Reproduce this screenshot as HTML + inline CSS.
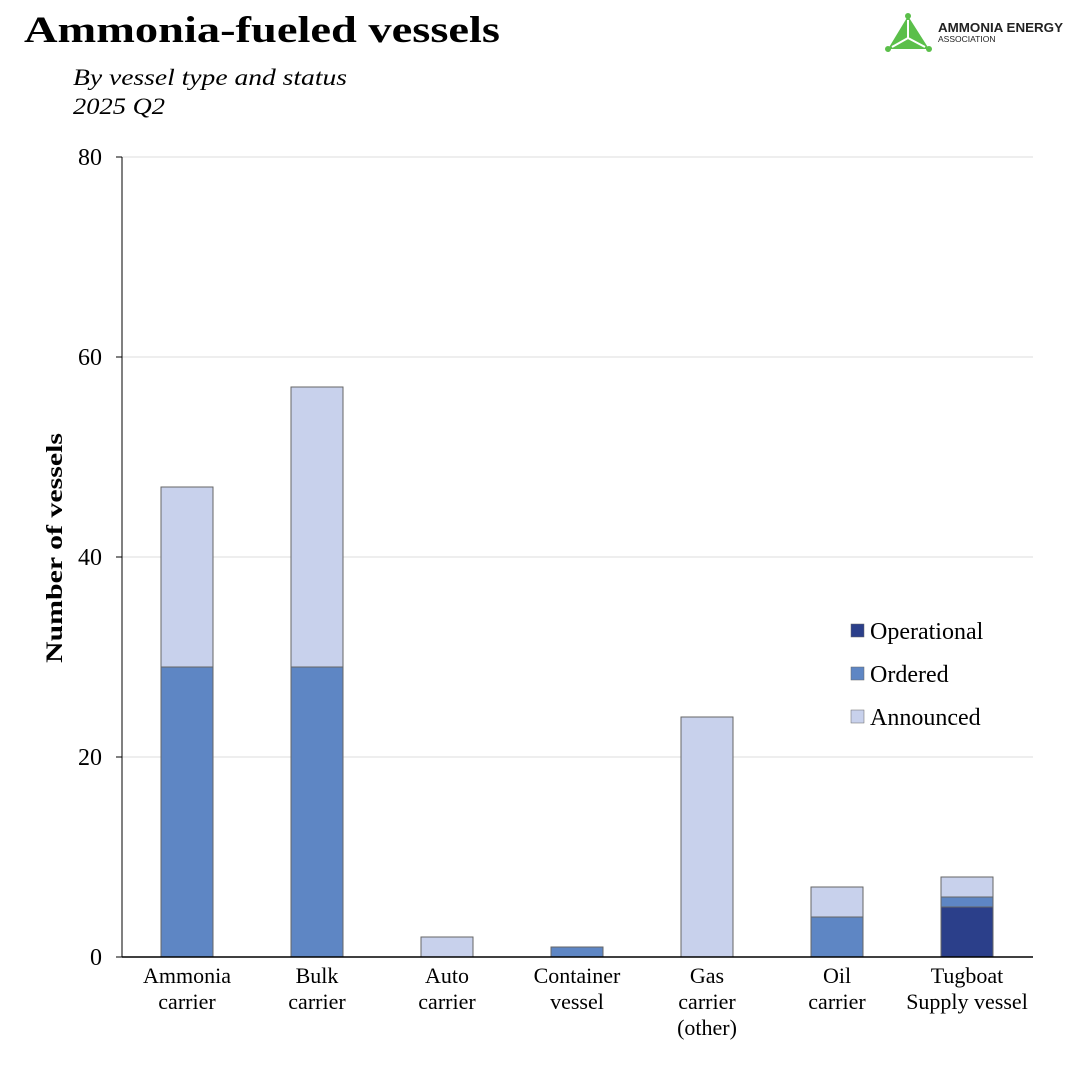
<!DOCTYPE html>
<html><head><meta charset="utf-8"><style>
html,body{margin:0;padding:0;background:#fff;}
body{width:1080px;height:1080px;overflow:hidden;font-family:"Liberation Serif",serif;}
</style></head><body>
<svg id="chart" width="1080" height="1080" viewBox="0 0 1080 1080" xmlns="http://www.w3.org/2000/svg">
<text x="24" y="42" font-size="37" font-weight="bold" font-family="Liberation Serif,serif" fill="#000" textLength="476" lengthAdjust="spacingAndGlyphs">Ammonia-fueled vessels</text>
<text x="73" y="85" font-size="23" font-style="italic" font-family="Liberation Serif,serif" textLength="274" lengthAdjust="spacingAndGlyphs">By vessel type and status</text>
<text x="73" y="114" font-size="23" font-style="italic" font-family="Liberation Serif,serif" textLength="92" lengthAdjust="spacingAndGlyphs">2025 Q2</text>
<g>
<polygon points="908,16 888,49 929,49" fill="#5bbf4a"/>
<g stroke="#fff" stroke-width="2"><line x1="908" y1="20" x2="908" y2="38"/><line x1="908" y1="38" x2="892" y2="47"/><line x1="908" y1="38" x2="925" y2="47"/></g>
<circle cx="908" cy="16" r="3" fill="#5bbf4a"/><circle cx="888" cy="49" r="3" fill="#5bbf4a"/><circle cx="929" cy="49" r="3" fill="#5bbf4a"/>
<text x="938" y="32" font-size="13" font-weight="bold" font-family="Liberation Sans,sans-serif" fill="#222" textLength="125" lengthAdjust="spacingAndGlyphs">AMMONIA ENERGY</text>
<text x="938" y="42" font-size="8.5" font-family="Liberation Sans,sans-serif" fill="#222">ASSOCIATION</text>
</g>
<g id="grid"></g><g id="bars"></g><g id="axes"></g>
<text transform="translate(62,548) rotate(-90)" text-anchor="middle" font-size="23" font-weight="bold" font-family="Liberation Serif,serif" textLength="230" lengthAdjust="spacingAndGlyphs">Number of vessels</text>
<g id="legend"></g>
</svg>
<script>
const categories=[["Ammonia","carrier"],["Bulk","carrier"],["Auto","carrier"],["Container","vessel"],["Gas","carrier","(other)"],["Oil","carrier"],["Tugboat","Supply vessel"]];
const operational=[0,0,0,0,0,0,5];
const ordered=[29,29,0,1,0,4,1];
const announced=[18,28,2,0,24,3,2];
const yTicks=[0,20,40,60,80];
const seriesNames=["Operational","Ordered","Announced"];
const colors=["#2b3f8a","#5e86c4","#c8d1ec"];
const NS="http://www.w3.org/2000/svg";
const X0=122,X1=1033,Y0=957,Y1=157,YMAX=80;
const bw=130,barW=52;
const y=v=>Y0-(v/YMAX)*(Y0-Y1);
const xc=i=>X0+bw*i+bw/2;
function mk(t,a,p){const e=document.createElementNS(NS,t);for(const k in a)e.setAttribute(k,a[k]);p.appendChild(e);return e;}
const grid=document.getElementById('grid'),axes=document.getElementById('axes'),bars=document.getElementById('bars'),legend=document.getElementById('legend');
yTicks.forEach(t=>{
 if(t>0){const g=mk('line',{x1:X0,x2:X1,y1:y(t),y2:y(t),stroke:'#dcdcdc','stroke-width':1},grid);
 
 }
 const tk=mk('line',{x1:X0-6,x2:X0,y1:y(t),y2:y(t),stroke:'#000'},axes);
 
 
 const l=mk('text',{x:X0-20,y:y(t)+8,'text-anchor':'end','font-size':24},axes);l.textContent=t;
 
 
});
const ya=mk('line',{x1:X0,x2:X0,y1:157,y2:Y0,stroke:'#000'},axes);


const xa=mk('line',{x1:X0,x2:X1,y1:Y0,y2:Y0,stroke:'#000','stroke-width':1.5},axes);


const series=[operational,ordered,announced];
categories.forEach((c,i)=>{
 let base=0;
 series.forEach((s,k)=>{
  const v=s[i]; if(!v) return;
  const r=mk('rect',{x:xc(i)-barW/2,y:y(base+v),width:barW,height:y(base)-y(base+v),fill:colors[k],stroke:'#666','stroke-width':1},bars);
  
  
  base+=v;
 });
 c.forEach((line,j)=>{
  const t=mk('text',{x:xc(i),y:983+j*26,'text-anchor':'middle','font-size':22},axes);t.textContent=line;
  
  
 });
});
seriesNames.forEach((n,k)=>{
 const ly=631+k*43;
 const r=mk('rect',{x:851,y:ly-7,width:13,height:13,fill:colors[k],stroke:'#666','stroke-width':0.5},legend);
 
 
 const t=mk('text',{x:870,y:ly+8,'font-size':24},legend);t.textContent=n;
 
 
});
</script>
</body></html>
